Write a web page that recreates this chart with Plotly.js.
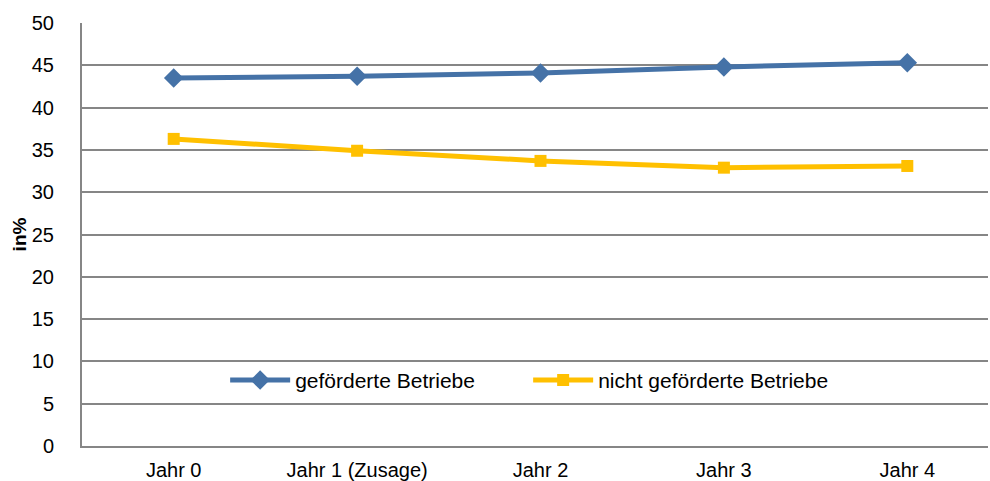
<!DOCTYPE html>
<html><head><meta charset="utf-8">
<script src="https://cdn.plot.ly/plotly-3.0.1.min.js"></script>
<style>body{margin:0;padding:0;background:#fff}#chart{width:990px;height:481px}</style>
</head><body><div id="chart"></div>
<script>
const categories = ["Jahr 0", "Jahr 1 (Zusage)", "Jahr 2", "Jahr 3", "Jahr 4"];
const gefoerdert = [43.5, 43.7, 44.1, 44.8, 45.3];
const nichtGefoerdert = [36.3, 34.9, 33.7, 32.9, 33.1];
const yTicks = [0, 5, 10, 15, 20, 25, 30, 35, 40, 45, 50];

const traces = [
  {x: categories, y: gefoerdert, name: "geförderte Betriebe", type: "scatter", mode: "lines+markers",
   line: {color: "#4572A7", width: 5}, marker: {symbol: "diamond", size: 15, color: "#4572A7"}},
  {x: categories, y: nichtGefoerdert, name: "nicht geförderte Betriebe", type: "scatter", mode: "lines+markers",
   line: {color: "#FFC000", width: 5}, marker: {symbol: "square", size: 12, color: "#FFC000"}}
];
const layout = {
  width: 990, height: 481,
  margin: {l: 82, r: 2, t: 23, b: 35},
  paper_bgcolor: "#fff", plot_bgcolor: "#fff",
  font: {family: "Liberation Sans, Arial, sans-serif", size: 20, color: "#000"},
  showlegend: true,
  legend: {orientation: "h", x: 0.158, y: 0.155, xanchor: "left", yanchor: "middle",
           bgcolor: "rgba(0,0,0,0)", font: {size: 21}, itemwidth: 60, tracegroupgap: 0,
           entrywidth: 228, entrywidthmode: "pixels"},
  xaxis: {type: "category", range: [-0.5, 4.44], showgrid: false, zeroline: false,
          showline: true, linecolor: "#868686", linewidth: 2, ticks: "", ticklabelstandoff: 5, tickfont: {size: 20}},
  yaxis: {range: [0, 50], tickvals: yTicks, showgrid: true, gridcolor: "#868686", gridwidth: 2,
          zeroline: false, showline: true, linecolor: "#868686", linewidth: 2, ticks: "",
          ticklabelstandoff: 22, tickfont: {size: 20},
          title: {text: "<b>in%</b>", font: {size: 19}, standoff: 0}}
};
Plotly.newPlot("chart", traces, layout, {displayModeBar: false});
</script></body></html>
